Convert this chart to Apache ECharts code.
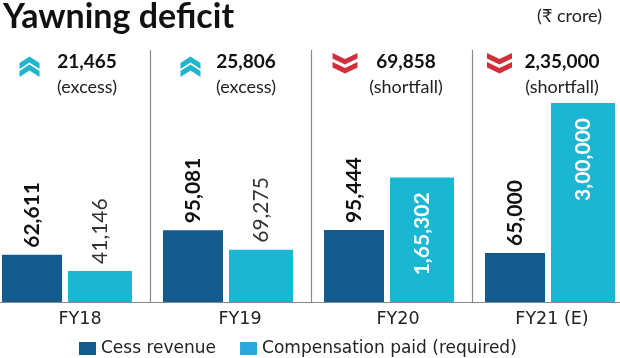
<!DOCTYPE html>
<html>
<head>
<meta charset="utf-8">
<script src="https://cdn.jsdelivr.net/npm/echarts@6/dist/echarts.min.js"></script>
<style>
html,body{margin:0;padding:0;background:#fff;}
#chart{width:620px;height:358px;}
</style>
</head>
<body>
<div id="chart"></div>
<script>
// ---- data (₹ crore) ----
const categories = ['FY18', 'FY19', 'FY20', 'FY21 (E)'];
const cessRevenue = [62611, 95081, 95444, 65000];
const compensation = [41146, 69275, 165302, 300000];
const gapValues = [21465, 25806, 69858, 235000];
const gapKinds = ['excess', 'excess', 'shortfall', 'shortfall'];
const compLabelInside = [false, false, true, true];

function inr(n) {
  const s = String(n);
  if (s.length <= 3) return s;
  const last3 = s.slice(-3);
  const rest = s.slice(0, -3).replace(/\B(?=(\d{2})+(?!\d))/g, ',');
  return rest + ',' + last3;
}

const C_DARK = '#135b8c';
const C_LIGHT = '#1bb6d1';
const C_UP = '#1fb5cf';
const C_DOWN = '#d12f3a';
const AXIS_FONT = '"DejaVu Sans", sans-serif';

const chart = echarts.init(document.getElementById('chart'), null, {renderer: 'canvas'});

const compData = compensation.map((v, i) => ({
  value: v,
  label: compLabelInside[i]
    ? {position: 'insideTop', align: 'right', verticalAlign: 'middle', distance: 15,
       color: '#fff', fontWeight: 'bold'}
    : {position: 'top', align: 'left', verticalAlign: 'middle', distance: 7,
       color: '#333', fontWeight: 'normal'}
}));

// annotation graphics
const annCenters = [87, 246, 406, 562];
const chevCenters = [29.5, 190.5, 345, 499.5];
function chevronUp(cx, ay, color) {
  const w = 10, h = 6.5, t = 6;
  return {type: 'polygon', shape: {points: [[cx - w, ay + h], [cx, ay], [cx + w, ay + h], [cx + w, ay + h + t], [cx, ay + t], [cx - w, ay + h + t]]}, style: {fill: color}};
}
function chevronDown(cx, top, color) {
  const w = 12.5, h = 6, t = 5.5;
  return {type: 'polygon', shape: {points: [[cx - w, top], [cx, top + h], [cx + w, top], [cx + w, top + t], [cx, top + h + t], [cx - w, top + t]]}, style: {fill: color}};
}
const graphics = [
  {type: 'text', left: 3, top: 0, style: {text: 'Yawning deficit', font: 'bold 34px Lato, "Noto Sans", sans-serif', fill: '#111'}},
  {type: 'text', right: 18, top: 7, style: {text: '(₹ crore)', font: '18px Lato, "Noto Sans", sans-serif', fill: '#222'}}
];
gapValues.forEach((v, i) => {
  if (gapKinds[i] === 'excess') {
    graphics.push(chevronUp(chevCenters[i], 56.5, C_UP));
    graphics.push(chevronUp(chevCenters[i], 64.5, C_UP));
  } else {
    graphics.push(chevronDown(chevCenters[i], 53, C_DOWN));
    graphics.push(chevronDown(chevCenters[i], 62, C_DOWN));
  }
  graphics.push({type: 'text', x: annCenters[i], y: 62, style: {text: inr(v), font: 'bold 19px Lato, sans-serif', fill: '#111', align: 'center', verticalAlign: 'middle'}});
  graphics.push({type: 'text', x: annCenters[i], y: 87, style: {text: '(' + gapKinds[i] + ')', font: '18px Lato, sans-serif', fill: '#222', align: 'center', verticalAlign: 'middle'}});
});

// per-category label shift (left padding) to match the reference placement
const labelPad = [26, 24, 18, 4];
const richLabels = {};
labelPad.forEach((p, i) => {
  richLabels['c' + i] = {padding: [0, 0, 0, p], fontFamily: AXIS_FONT, fontSize: 17.5, color: '#222'};
});

const option = {
  animation: false,
  backgroundColor: '#fff',
  grid: [
    {left: -13.5, width: 644, top: 103, bottom: 56, outerBoundsMode: 'none', containLabel: false},
    {left: -11, width: 644, top: 50, bottom: 56, z: 0, outerBoundsMode: 'none', containLabel: false}
  ],
  xAxis: [
    {type: 'category', gridIndex: 0, data: categories,
     axisLine: {show: true, lineStyle: {color: '#888', width: 1}},
     axisTick: {show: false},
     axisLabel: {show: true, margin: 8, fontFamily: AXIS_FONT, fontSize: 17.5, color: '#222',
                 formatter: (v, i) => '{c' + i + '|' + v + '}', rich: richLabels}},
    {type: 'category', gridIndex: 1, data: categories,
     axisLine: {show: false}, axisTick: {show: false}, axisLabel: {show: false},
     splitLine: {show: true, interval: 0, lineStyle: {color: '#8a8a8a', width: 1.2}}}
  ],
  yAxis: [
    {type: 'value', gridIndex: 0, min: 0, max: 264000, show: false},
    {type: 'value', gridIndex: 1, min: 0, max: 1, show: false}
  ],
  legend: {
    left: 74, top: 335, itemWidth: 17, itemHeight: 13, itemGap: 24, icon: 'rect',
    textStyle: {fontFamily: AXIS_FONT, fontSize: 17, color: '#222'},
    data: [
      {name: 'Cess revenue', itemStyle: {color: C_DARK}},
      {name: 'Compensation paid (required)', itemStyle: {color: '#2aa8e0'}}
    ]
  },
  series: [
    {type: 'bar', name: 'Cess revenue', xAxisIndex: 0, yAxisIndex: 0,
     data: cessRevenue, barWidth: 60, barGap: '10%', clip: true,
     itemStyle: {color: C_DARK},
     label: {show: true, position: 'top', rotate: 90, align: 'left', verticalAlign: 'middle', distance: 7,
             formatter: p => inr(p.value), fontFamily: 'Lato, sans-serif', fontWeight: 'bold', fontSize: 21, color: '#111'}},
    {type: 'bar', name: 'Compensation paid (required)', xAxisIndex: 0, yAxisIndex: 0,
     data: compData, barWidth: 64, barGap: '10%', clip: true,
     itemStyle: {color: C_LIGHT},
     label: {show: true, rotate: 90, formatter: p => inr(p.value), fontFamily: 'Lato, sans-serif', fontSize: 21}}
  ],
  graphic: graphics
};
chart.setOption(option);
</script>
</body>
</html>
